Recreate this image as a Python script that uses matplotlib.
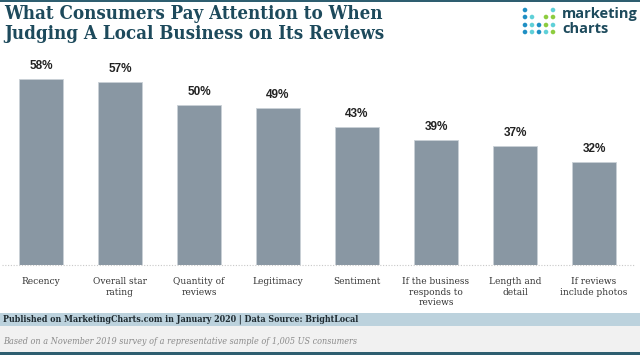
import matplotlib
matplotlib.use("Agg")
import matplotlib.pyplot as plt
from matplotlib.patches import Rectangle, Ellipse

categories = ["Recency", "Overall star\nrating", "Quantity of\nreviews", "Legitimacy",
              "Sentiment", "If the business\nresponds to\nreviews", "Length and\ndetail",
              "If reviews\ninclude photos"]
values = [58, 57, 50, 49, 43, 39, 37, 32]
value_labels = [f"{v}%" for v in values]

title = "What Consumers Pay Attention to When\nJudging A Local Business on Its Reviews"
source_text = "Published on MarketingCharts.com in January 2020 | Data Source: BrightLocal"
note_text = "Based on a November 2019 survey of a representative sample of 1,005 US consumers"

W, H = 640, 355
fig = plt.figure(figsize=(W / 100, H / 100), dpi=100)
fig.patch.set_facecolor("white")

def fy(y):
    return 1 - y / H

def fx(x):
    return x / W

# axes
ax_left, ax_right = 1.5, 633.5
y_base, y_top = 265, 265 - 60 * 3.21
ax = fig.add_axes([fx(ax_left), fy(y_base), fx(ax_right - ax_left), (y_base - y_top) / H])
x = list(range(len(categories)))
ax.bar(x, values, width=44 / 79.5, color="#8997a3", edgecolor="#c9d1d7", linewidth=0.6)
ax.set_xlim(-0.5, len(categories) - 0.5)
ax.set_ylim(0, 60)
for s in ax.spines.values():
    s.set_visible(False)
ax.set_yticks([])
ax.set_xticks([])
ax.axhline(0, color="#c8c8c8", linestyle=(0, (1, 1.5)), linewidth=0.8, clip_on=False)
for i, v in enumerate(values):
    ax.annotate(value_labels[i], (i, v), xytext=(0, 5), textcoords="offset points",
                ha="center", va="bottom", fontsize=8.5, fontweight="bold",
                family="Liberation Sans", color="#222222")
for i, c in enumerate(categories):
    ax.annotate(c, (i, 0), xytext=(0, -8.5), textcoords="offset points", ha="center",
                va="top", fontsize=7.2, family="DejaVu Serif", fontstretch="condensed",
                color="#333333", linespacing=1.25, annotation_clip=False)

# title
fig.text(fx(4), fy(5), title, ha="left", va="top", fontsize=13.4, fontweight="bold",
         family="DejaVu Serif", fontstretch="condensed", color="#1d4a5c",
         linespacing=1.15)

# top & bottom lines
fig.add_artist(Rectangle((0, fy(2)), 1, 2 / H, transform=fig.transFigure,
                         color="#2e5e70", lw=0))
fig.add_artist(Rectangle((0, 0), 1, 3 / H, transform=fig.transFigure,
                         color="#2e5e70", lw=0))

# footer bands
fig.add_artist(Rectangle((0, fy(326)), 1, 13 / H, transform=fig.transFigure,
                         color="#bcd2dd", lw=0))
fig.add_artist(Rectangle((0, fy(352)), 1, 26 / H, transform=fig.transFigure,
                         color="#f1f1f1", lw=0))
fig.text(fx(3), fy(319.5), source_text, ha="left", va="center", fontsize=6.4,
         fontweight="bold", family="DejaVu Serif", fontstretch="condensed",
         color="#1e2a30")
fig.text(fx(3), fy(341), note_text, ha="left", va="center", fontsize=6.45,
         style="italic", family="DejaVu Serif", fontstretch="condensed",
         color="#8a8a8a")

# logo
dot_cols = [525, 532, 539, 546, 553]
dot_rows = [10, 17, 25, 32]
blue, cyan, green = "#1f8fc4", "#5fd0d8", "#8dcc3f"
pattern = {
    (0, 0): blue, (0, 4): cyan,
    (1, 0): blue, (1, 1): cyan, (1, 3): green, (1, 4): green,
    (2, 0): blue, (2, 1): cyan, (2, 2): blue, (2, 3): green, (2, 4): cyan,
    (3, 0): blue, (3, 1): cyan, (3, 2): blue, (3, 3): cyan, (3, 4): green,
}
for (r, c), col in pattern.items():
    fig.add_artist(Ellipse((fx(dot_cols[c]), fy(dot_rows[r])), 4.6 / W, 4.6 / H,
                           transform=fig.transFigure, color=col, lw=0))
fig.text(fx(562), fy(14), "marketing", ha="left", va="center", fontsize=10.5,
         fontweight="bold", family="Open Sans", color="#1d4a5c")
fig.text(fx(562), fy(29), "charts", ha="left", va="center", fontsize=10.5,
         fontweight="bold", family="Open Sans", color="#1d4a5c")

fig.savefig("out.png", dpi=100)
